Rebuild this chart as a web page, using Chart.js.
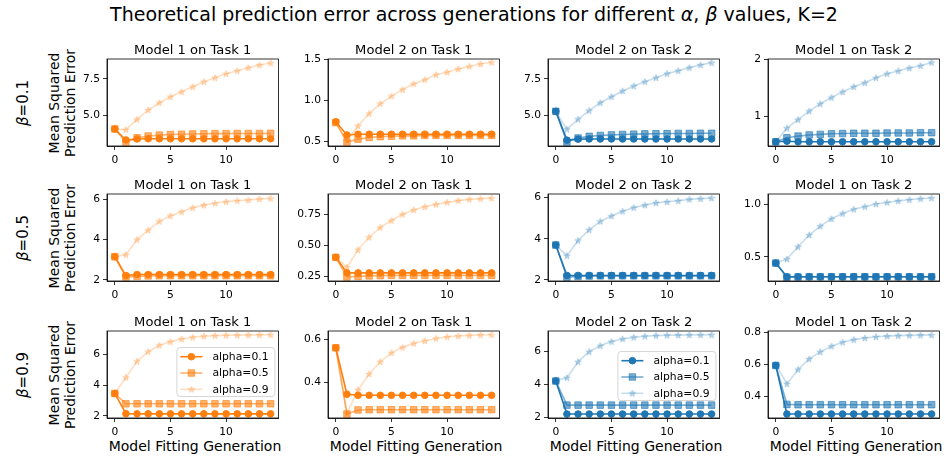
<!DOCTYPE html>
<html><head><meta charset="utf-8">
<script src="https://cdn.jsdelivr.net/npm/chart.js@4.4.1/dist/chart.umd.min.js"></script>
<style>
html,body{margin:0;padding:0;background:#fff;}
body{width:945px;height:461px;position:relative;overflow:hidden;font-family:"DejaVu Sans",sans-serif;color:#000;}
canvas{position:absolute;}
.lbl{position:absolute;white-space:nowrap;color:#000;transform:translate(-50%,-50%);}
.rot{transform:translate(-50%,-50%) rotate(-90deg);text-align:center;}
</style></head><body>
<script>
// ---------------- data ----------------
const generations = [0,1,2,3,4,5,6,7,8,9,10,11,12,13,14];
const alphaLabels = ['alpha=0.1','alpha=0.5','alpha=0.9'];
const betaValues = ['0.1','0.5','0.9'];
const panelTitles = ['Model 1 on Task 1','Model 2 on Task 1','Model 2 on Task 2','Model 1 on Task 2'];

// beta = 0.1  (rows: alpha=0.1, alpha=0.5, alpha=0.9)
const b01_m1t1 = [
  [4.10,3.35,3.42,3.43,3.43,3.43,3.43,3.43,3.43,3.43,3.43,3.43,3.43,3.43,3.43],
  [4.10,3.21,3.50,3.62,3.68,3.72,3.74,3.76,3.77,3.78,3.78,3.79,3.79,3.79,3.80],
  [4.10,4.05,4.75,5.39,5.88,6.29,6.63,6.97,7.31,7.58,7.86,8.06,8.27,8.45,8.59]
];
const b01_m2t1 = [
  [0.74,0.58,0.59,0.59,0.59,0.59,0.59,0.59,0.59,0.59,0.59,0.59,0.59,0.59,0.59],
  [0.73,0.495,0.53,0.55,0.56,0.565,0.57,0.57,0.575,0.575,0.575,0.575,0.575,0.575,0.575],
  [0.73,0.51,0.69,0.84,0.96,1.05,1.13,1.20,1.25,1.31,1.34,1.38,1.41,1.44,1.46]
];
const b01_m2t2 = [
  [5.27,3.30,3.37,3.38,3.38,3.38,3.38,3.38,3.38,3.38,3.38,3.38,3.38,3.38,3.38],
  [5.27,3.17,3.45,3.56,3.62,3.66,3.69,3.71,3.73,3.74,3.75,3.76,3.76,3.77,3.77],
  [5.27,4.04,4.73,5.32,5.86,6.27,6.66,7.00,7.30,7.57,7.85,8.05,8.26,8.44,8.60]
];
const b01_m1t2 = [
  [0.55,0.56,0.55,0.55,0.55,0.55,0.55,0.55,0.55,0.55,0.55,0.55,0.55,0.55,0.55],
  [0.55,0.62,0.65,0.67,0.68,0.69,0.695,0.70,0.70,0.70,0.705,0.705,0.705,0.71,0.71],
  [0.55,0.79,0.94,1.09,1.22,1.33,1.43,1.52,1.59,1.68,1.75,1.80,1.85,1.89,1.95]
];
// beta = 0.5
const b05_m1t1 = [
  [3.15,2.22,2.27,2.27,2.27,2.27,2.27,2.27,2.27,2.27,2.27,2.27,2.27,2.27,2.27],
  [3.15,2.15,2.18,2.20,2.21,2.21,2.21,2.21,2.21,2.21,2.21,2.21,2.21,2.21,2.21],
  [3.15,3.25,4.00,4.46,4.90,5.17,5.37,5.57,5.70,5.79,5.87,5.92,5.95,6.00,6.03]
];
const b05_m2t1 = [
  [0.405,0.28,0.28,0.28,0.28,0.28,0.28,0.28,0.28,0.28,0.28,0.28,0.28,0.28,0.28],
  [0.405,0.247,0.252,0.256,0.258,0.26,0.26,0.26,0.26,0.26,0.26,0.26,0.26,0.26,0.26],
  [0.405,0.325,0.465,0.566,0.645,0.70,0.75,0.785,0.81,0.83,0.846,0.86,0.87,0.875,0.88]
];
const b05_m2t2 = [
  [3.70,2.22,2.22,2.22,2.22,2.22,2.22,2.22,2.22,2.22,2.22,2.22,2.22,2.22,2.22],
  [3.70,2.14,2.17,2.19,2.20,2.20,2.20,2.20,2.20,2.20,2.20,2.20,2.20,2.20,2.20],
  [3.68,3.18,3.92,4.44,4.85,5.11,5.34,5.52,5.64,5.75,5.80,5.85,5.92,5.95,5.98]
];
const b05_m1t2 = [
  [0.44,0.31,0.31,0.31,0.31,0.31,0.31,0.31,0.31,0.31,0.31,0.31,0.31,0.31,0.31],
  [0.44,0.305,0.308,0.31,0.31,0.31,0.31,0.31,0.31,0.31,0.31,0.31,0.31,0.31,0.31],
  [0.44,0.478,0.595,0.706,0.79,0.86,0.91,0.95,0.975,1.00,1.015,1.03,1.04,1.05,1.057]
];
// beta = 0.9
const b09_m1t1 = [
  [3.46,2.15,2.14,2.14,2.14,2.14,2.14,2.14,2.14,2.14,2.14,2.14,2.14,2.14,2.14],
  [3.46,2.79,2.79,2.79,2.79,2.79,2.79,2.79,2.79,2.79,2.79,2.79,2.79,2.79,2.79],
  [3.46,4.50,5.55,6.17,6.58,6.82,6.99,7.10,7.17,7.21,7.23,7.24,7.25,7.26,7.27]
];
const b09_m2t1 = [
  [0.56,0.347,0.342,0.342,0.342,0.342,0.342,0.342,0.342,0.342,0.342,0.342,0.342,0.342,0.342],
  [0.56,0.256,0.275,0.276,0.276,0.276,0.276,0.276,0.276,0.276,0.276,0.276,0.276,0.276,0.276],
  [0.56,0.26,0.367,0.44,0.496,0.537,0.562,0.58,0.592,0.603,0.61,0.614,0.617,0.619,0.62]
];
const b09_m2t2 = [
  [4.22,2.22,2.22,2.22,2.22,2.22,2.22,2.22,2.22,2.22,2.22,2.22,2.22,2.22,2.22],
  [4.22,2.76,2.76,2.76,2.76,2.76,2.76,2.76,2.76,2.76,2.76,2.76,2.76,2.76,2.76],
  [4.26,4.42,5.39,6.00,6.36,6.61,6.77,6.87,6.93,6.97,6.99,7.00,7.01,7.01,7.02]
];
const b09_m1t2 = [
  [0.595,0.292,0.292,0.292,0.292,0.292,0.292,0.292,0.292,0.292,0.292,0.292,0.292,0.292,0.292],
  [0.595,0.352,0.35,0.35,0.35,0.35,0.35,0.35,0.35,0.35,0.35,0.35,0.35,0.35,0.35],
  [0.60,0.48,0.57,0.636,0.68,0.715,0.74,0.756,0.766,0.774,0.778,0.781,0.783,0.784,0.785]
];

// axis limits and ticks
const yLimits = [
  [[2.94,8.86],[0.447,1.50],[2.90,8.85],[0.475,2.01]],
  [[1.95,6.25],[0.215,0.913],[1.95,6.18],[0.27,1.095]],
  [[1.87,7.51],[0.238,0.637],[1.98,7.25],[0.267,0.81]]
];
const yStep = [[2.5,0.5,2.5,1],[2,0.25,2,0.5],[2,0.2,2,0.2]];
const yDecimals = [[1,1,1,0],[0,2,0,1],[0,1,0,1]];

// ---------------- layout / style ----------------
const panels = [
  [b01_m1t1,b01_m2t1,b01_m2t2,b01_m1t2],
  [b05_m1t1,b05_m2t1,b05_m2t2,b05_m1t2],
  [b09_m1t1,b09_m2t1,b09_m2t2,b09_m1t2]
];
const FONT = 'DejaVu Sans';
const colLeft = [107,328,548,768];
const rowTop = [59,194,331];
const PW = 176, PH = 87, YW = 45, TH = 22, XH = 20;
const ORANGE = [255,127,14], BLUE = [31,119,180];
const opac = [1.0, 0.6, 0.25];
const rgba = (c,a)=>`rgba(${c[0]},${c[1]},${c[2]},${a})`;
const legendAt = {'2,0': -3, '2,2': 1};

function makeStar(color){
  const c = document.createElement('canvas');
  c.width = 12; c.height = 12;
  const g = c.getContext('2d');
  const R = 3.5, r = R*0.382;
  g.beginPath();
  for (let k=0;k<10;k++){
    const ang = -Math.PI/2 + k*Math.PI/5;
    const rr = (k%2) ? r : R;
    const px = 6 + rr*Math.cos(ang), py = 6.3 + rr*Math.sin(ang);
    if (k) g.lineTo(px,py); else g.moveTo(px,py);
  }
  g.closePath();
  g.fillStyle = color; g.fill();
  g.strokeStyle = color; g.lineWidth = 1; g.stroke();
  return c;
}

const framePlugin = {
  id:'frame',
  afterDatasetsDraw(chart){
    const {ctx, chartArea:a} = chart;
    ctx.save();
    ctx.strokeStyle = '#000'; ctx.lineWidth = 0.8;
    ctx.strokeRect(a.left, a.top, a.right-a.left, a.bottom-a.top);
    ctx.restore();
  }
};

const panelTitle = {
  id:'panelTitle',
  afterDraw(chart, args, opts){
    const {ctx, chartArea:a} = chart;
    ctx.save();
    ctx.fillStyle = '#000';
    ctx.font = `13.1px "${FONT}"`;
    ctx.textAlign = 'center'; ctx.textBaseline = 'alphabetic';
    ctx.fillText(opts.text, (a.left + a.right)/2, a.top - 5);
    ctx.restore();
  }
};

const insideLegend = {
  id:'insideLegend',
  afterDraw(chart, args, opts){
    if (!opts || !opts.display) return;
    const {ctx, chartArea:a} = chart;
    const w = 98, h = 49, rowH = 16.3;
    const x0 = a.right - 4 - w;
    const y0 = (a.top + a.bottom)/2 - h/2 + (opts.dy||0);
    ctx.save();
    ctx.beginPath();
    if (ctx.roundRect) ctx.roundRect(x0+0.5, y0+0.5, w, h, 3); else ctx.rect(x0+0.5,y0+0.5,w,h);
    ctx.fillStyle = 'rgba(255,255,255,0.8)'; ctx.fill();
    ctx.strokeStyle = 'rgba(204,204,204,0.8)'; ctx.lineWidth = 1; ctx.stroke();
    chart.data.datasets.forEach((ds,i)=>{
      const cy = y0 + 9.7 + i*rowH;
      ctx.strokeStyle = ds.borderColor; ctx.lineWidth = ds.borderWidth;
      ctx.beginPath(); ctx.moveTo(x0+4, cy); ctx.lineTo(x0+26, cy); ctx.stroke();
      ctx.fillStyle = ds.pointBackgroundColor; ctx.strokeStyle = ds.pointBorderColor;
      ctx.lineWidth = ds.pointBorderWidth;
      Chart.helpers.drawPoint(ctx, {pointStyle: ds.pointStyle, radius: ds.pointRadius, borderWidth: ds.pointBorderWidth, rotation:0}, x0+15, cy);
      ctx.fillStyle = '#000';
      ctx.font = `10.8px "${FONT}"`;
      ctx.textBaseline = 'middle'; ctx.textAlign = 'left';
      ctx.fillText(ds.label, x0+36, cy+0.5);
    });
    ctx.restore();
  }
};

function addLabel(html, x, y, size, extraClass, extraStyle){
  const d = document.createElement('div');
  d.className = 'lbl' + (extraClass ? ' '+extraClass : '');
  d.style.left = x+'px'; d.style.top = y+'px';
  d.style.fontSize = size+'px';
  if (extraStyle) d.style.cssText += extraStyle;
  d.innerHTML = html;
  document.body.appendChild(d);
}

// figure texts
addLabel('Theoretical prediction error across generations for different <i>α</i>, <i>β</i> values, K=2', 474, 14, 19);
for (let r=0;r<3;r++){
  const cy = rowTop[r] + PH/2;
  addLabel('<i>β</i>=' + betaValues[r], 23, cy, 15, 'rot');
  addLabel('Mean Squared<br>Prediction Error', 62, cy, 14, 'rot', 'line-height:16px;');
}
for (let c=0;c<4;c++){
  addLabel('Model Fitting Generation', colLeft[c] + PW/2, 446, 14);
}

// panels
for (let r=0;r<3;r++){
  for (let c=0;c<4;c++){
    const base = c < 2 ? ORANGE : BLUE;
    const series = panels[r][c];
    const canvas = document.createElement('canvas');
    const cw = YW + PW + 1, ch = TH + PH + XH;
    canvas.width = cw; canvas.height = ch;
    canvas.style.width = cw+'px'; canvas.style.height = ch+'px';
    canvas.style.left = (colLeft[c]-YW)+'px';
    canvas.style.top = (rowTop[r]-TH)+'px';
    document.body.appendChild(canvas);
    const datasets = series.map((vals,i)=>{
      const col = rgba(base, opac[i]);
      let ps, rad;
      if (i===0){ ps='circle'; rad=3.3; }
      else if (i===1){ ps='rect'; rad=4.6; }
      else { ps=makeStar(col); rad=3.5; }
      return {
        label: alphaLabels[i],
        data: generations.map((g,k)=>({x:g, y:vals[k]})),
        borderColor: col, backgroundColor: col,
        pointBackgroundColor: col, pointBorderColor: col,
        borderWidth: 1.6, pointBorderWidth: 1, pointRadius: rad, pointStyle: ps,
        pointHoverRadius: rad, tension: 0, clip: 0, order: 3-i
      };
    });
    const dec = yDecimals[r][c];
    const key = r+','+c;
    new Chart(canvas, {
      type:'line',
      data:{datasets},
      plugins:[framePlugin, panelTitle, insideLegend],
      options:{
        responsive:false, animation:false, devicePixelRatio:1,
        events:[],
        layout:{padding:{left:0,right:1,top:TH,bottom:0}},
        plugins:{
          legend:{display:false}, tooltip:{enabled:false}, title:{display:false},
          panelTitle:{text:panelTitles[c]},
          insideLegend:{display: key in legendAt, dy: legendAt[key]}
        },
        scales:{
          x:{type:'linear', min:-0.7, max:14.7,
             afterFit(s){ s.height = XH; },
             ticks:{stepSize:5, includeBounds:false, autoSkip:false, maxRotation:0, color:'#000',
                    font:{family:FONT, size:10.7}, padding:3.5},
             grid:{display:true, drawOnChartArea:false, drawTicks:true, tickLength:4, tickColor:'#000', tickWidth:0.8},
             border:{display:true, color:'#000', width:0.8}},
          y:{type:'linear', min:yLimits[r][c][0], max:yLimits[r][c][1],
             afterFit(s){ s.width = YW; },
             ticks:{stepSize:yStep[r][c], includeBounds:false, autoSkip:false, color:'#000',
                    font:{family:FONT, size:10.7}, padding:3,
                    callback:(v)=>Number(v).toFixed(dec)},
             grid:{display:true, drawOnChartArea:false, drawTicks:true, tickLength:4, tickColor:'#000', tickWidth:0.8},
             border:{display:true, color:'#000', width:0.8}}
        }
      }
    });
  }
}
</script>
</body></html>
